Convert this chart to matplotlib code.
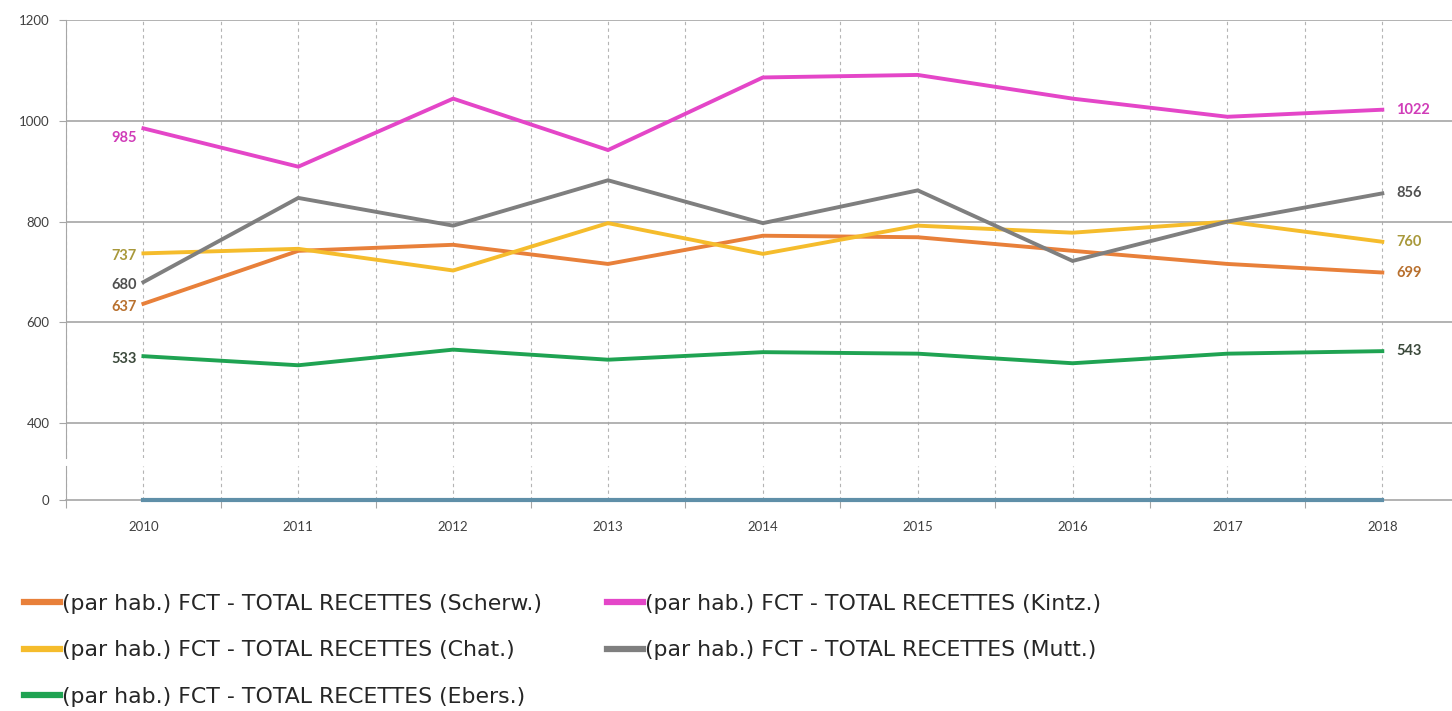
import matplotlib
matplotlib.use('Agg')
import matplotlib.pyplot as plt
from matplotlib.lines import Line2D

annees = ['2010', '2011', '2012', '2013', '2014', '2015', '2016', '2017', '2018']
scherw = [637, 742, 754, 716, 772, 769, 742, 716, 699]
kintz = [985, 909, 1044, 942, 1086, 1091, 1044, 1008, 1022]
chat = [737, 746, 703, 797, 736, 792, 778, 800, 760]
mutt = [680, 847, 792, 882, 797, 862, 722, 800, 856]
ebers = [533, 515, 546, 526, 541, 538, 519, 538, 543]
zero = [0, 0, 0, 0, 0, 0, 0, 0, 0]

noms = ['(par hab.) FCT - TOTAL RECETTES (Scherw.)',
        '(par hab.) FCT - TOTAL RECETTES (Chat.)',
        '(par hab.) FCT - TOTAL RECETTES (Ebers.)',
        '(par hab.) FCT - TOTAL RECETTES (Kintz.)',
        '(par hab.) FCT - TOTAL RECETTES (Mutt.)']
series = [scherw, chat, ebers, kintz, mutt]
couleurs = ['#e8803a', '#f5bc2c', '#1fa352', '#e446c8', '#7f7f7f']
couleurs_txt = ['#b8702e', '#a8983a', '#3c4a3c', '#d03cb8', '#505050']

gris = '#a6a6a6'
W, H = 1452, 711
fig = plt.figure(figsize=(W / 100, H / 100), dpi=100)
ax = fig.add_axes([66 / W, (H - 458) / H, (W - 66) / W, 438 / H])
ax2 = fig.add_axes([66 / W, (H - 500) / H, (W - 66) / W, 34 / H])

x = list(range(len(annees)))
for a in (ax, ax2):
    for s in ['top', 'right']:
        a.spines[s].set_visible(False)
    a.spines['left'].set_color(gris)
    for k in range(18):
        a.axvline(k * 0.5 - 0.5, color='#b4b4b4', lw=0.8, ls=(0, (3, 3)), zorder=0)

# partie haute
ax.set_ylim(331, 1200)
ax.spines['bottom'].set_visible(False)
ax.set_yticks([400, 600, 800, 1000, 1200])
for v in [400, 600, 800, 1000, 1200]:
    ax.axhline(v, color=gris, lw=1.2, zorder=1)
ax.set_xticks([])
ax.tick_params(axis='y', length=5, color=gris, pad=7, labelsize=9.5, labelcolor='#404040')
for t in ax.get_yticklabels():
    t.set_fontfamily('Lato')

for serie, c in zip(series, couleurs):
    ax.plot(x, serie, color=c, lw=2.8, zorder=3, solid_joinstyle='miter')

# etiquettes debut / fin
decal_g = [0, 0, 0, -5, 0]
for serie, c, d in zip(series, couleurs_txt, decal_g):
    ax.annotate(str(serie[0]), (x[0], serie[0]), xytext=(-5, d - 2), textcoords='offset points',
                ha='right', va='center', color=c, fontsize=10.5, fontweight='bold', family='Lato')
    ax.annotate(str(serie[-1]), (x[-1], serie[-1]), xytext=(10, 0), textcoords='offset points',
                ha='left', va='center', color=c, fontsize=10.5, fontweight='bold', family='Lato')

# partie basse
ax2.set_ylim(0, 67.5)
ax2.spines['bottom'].set_color(gris)
ax2.spines['bottom'].set_linewidth(1.2)
ax2.set_yticks([0])
ax2.tick_params(axis='y', length=5, color=gris, pad=7, labelsize=9.5, labelcolor='#404040')
ax2.set_xticks([k - 0.5 for k in range(10)])
ax2.set_xticklabels([])
ax2.set_xticks(x, minor=True)
ax2.set_xticklabels(annees, minor=True)
ax2.tick_params(axis='x', which='major', length=6, color=gris)
ax2.tick_params(axis='x', which='minor', length=0, pad=15, labelsize=9.5, labelcolor='#404040')
for t in ax2.get_xticklabels(minor=True) + ax2.get_yticklabels():
    t.set_fontfamily('Lato')
ax2.plot(x, zero, color='#5f8fa8', lw=3, zorder=3, clip_on=False)

for a in (ax, ax2):
    a.set_xlim(-0.5, 8.45)

handles = [Line2D([], [], color=c, lw=4.5) for c in couleurs]
fig.legend(handles, noms, ncol=2, loc='upper left', bbox_to_anchor=(24 / W, 1 - 594 / H),
           frameon=False, handlelength=1.65, handletextpad=0.08,
           labelspacing=1.2, columnspacing=2.95, borderaxespad=0, borderpad=0,
           prop={'family': 'DejaVu Sans', 'size': 15.8})
for t in fig.legends[0].get_texts():
    t.set_color('#262626')

fig.savefig('out.png', dpi=100)
